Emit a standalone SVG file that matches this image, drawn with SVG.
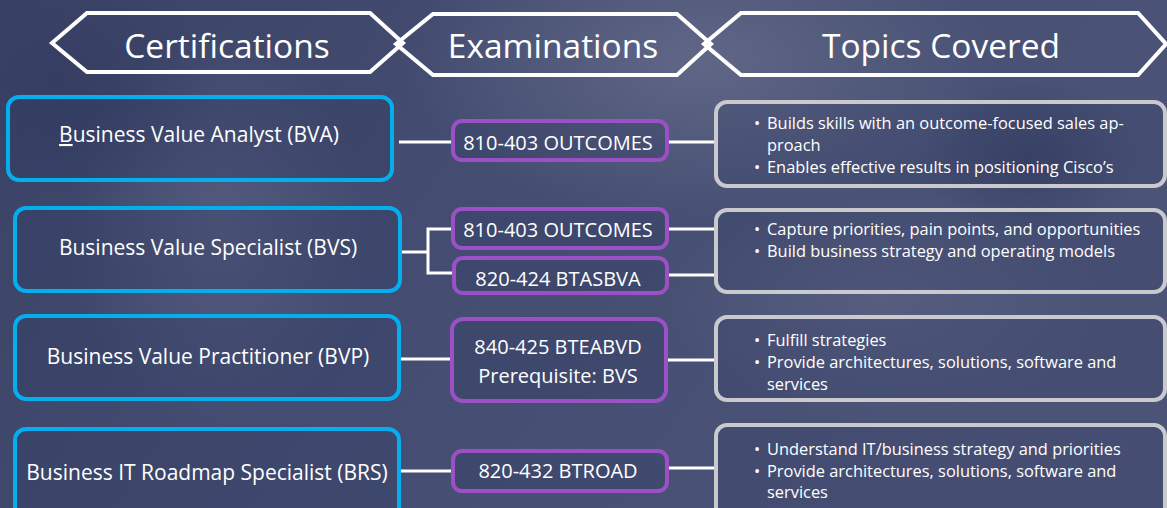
<svg xmlns="http://www.w3.org/2000/svg" width="1167" height="508" viewBox="0 0 1167 508">
<defs>
<linearGradient id="bg" x1="0" y1="0" x2="1" y2="0.3">
<stop offset="0" stop-color="#3a4366"/>
<stop offset="0.45" stop-color="#444d71"/>
<stop offset="1" stop-color="#4b5477"/>
</linearGradient>
<radialGradient id="glow1" cx="0.5" cy="0.5" r="0.5">
<stop offset="0" stop-color="#666c8b" stop-opacity="0.8"/>
<stop offset="1" stop-color="#666c8b" stop-opacity="0"/>
</radialGradient>
<radialGradient id="glow2" cx="0.5" cy="0.5" r="0.5">
<stop offset="0" stop-color="#5a6183" stop-opacity="0.75"/>
<stop offset="1" stop-color="#5a6183" stop-opacity="0"/>
</radialGradient>
<radialGradient id="dark1" cx="0.5" cy="0.5" r="0.5">
<stop offset="0" stop-color="#333c60" stop-opacity="0.7"/>
<stop offset="1" stop-color="#333c60" stop-opacity="0"/>
</radialGradient>
</defs>
<style>
.hdr{fill:none;stroke:#ffffff;stroke-width:4;stroke-linejoin:miter}
.hdrt{font-family:"Open Sans","Noto Sans",sans-serif;font-size:33.5px;fill:#ffffff;text-anchor:middle}
.cert{fill:#2f3860;fill-opacity:0.3;stroke:#05aeee;stroke-width:4}
.exam{fill:#2f3860;fill-opacity:0.3;stroke:#9c50c6;stroke-width:4}
.topic{fill:#2f3860;fill-opacity:0.2;stroke:#c9c9ce;stroke-width:4}
.ct{font-family:"Open Sans","Noto Sans",sans-serif;font-size:21px;fill:#ffffff;text-anchor:middle}
.et{font-family:"Open Sans","Noto Sans",sans-serif;font-size:20px;fill:#ffffff;text-anchor:middle}
.tt{font-family:"Open Sans","Noto Sans",sans-serif;font-size:16.4px;fill:#ffffff}
.conn{fill:none;stroke:#ffffff;stroke-width:3}
</style>
<rect x="0" y="0" width="1167" height="508" fill="url(#bg)"/>
<ellipse cx="700" cy="60" rx="300" ry="160" fill="url(#glow1)"/>
<ellipse cx="220" cy="230" rx="150" ry="200" fill="url(#glow2)"/>
<ellipse cx="880" cy="300" rx="220" ry="120" fill="url(#glow2)"/>
<ellipse cx="1030" cy="160" rx="110" ry="80" fill="url(#dark1)"/>
<ellipse cx="60" cy="80" rx="160" ry="120" fill="url(#dark1)"/>

<g id="header-certifications">
<polygon class="hdr" points="52,43 87,13 370,13 403,43 370,72 87,72"/>
<text class="hdrt" x="227" y="58">Certifications</text>
</g>
<g id="header-examinations">
<polygon class="hdr" points="396,44 433,14 677,14 711,44 677,75 433,75"/>
<text class="hdrt" x="553" y="58">Examinations</text>
</g>
<g id="header-topics">
<polygon class="hdr" points="704,44 741,13 1138,13 1166,44 1138,75 741,75"/>
<text class="hdrt" x="941" y="58">Topics Covered</text>
</g>

<g id="connectors">
<line class="conn" x1="399" y1="142" x2="452" y2="142"/>
<line class="conn" x1="668" y1="142" x2="715" y2="142"/>
<polyline class="conn" points="401,252 428,252"/>
<polyline class="conn" points="452,229 428,229 428,273 452,273"/>
<line class="conn" x1="668" y1="229" x2="715" y2="229"/>
<line class="conn" x1="668" y1="275" x2="715" y2="275"/>
<line class="conn" x1="400" y1="359" x2="452" y2="359"/>
<line class="conn" x1="667" y1="360" x2="715" y2="360"/>
<line class="conn" x1="400" y1="471" x2="452" y2="471"/>
<line class="conn" x1="668" y1="468" x2="715" y2="468"/>
</g>

<g id="cert-bva">
<rect class="cert" x="8" y="97" width="384" height="83" rx="11"/>
<text class="ct" x="199" y="142"><tspan text-decoration="underline">B</tspan>usiness Value Analyst (BVA)</text>
</g>
<g id="cert-bvs">
<rect class="cert" x="15" y="208" width="385" height="83" rx="11"/>
<text class="ct" x="208" y="255">Business Value Specialist (BVS)</text>
</g>
<g id="cert-bvp">
<rect class="cert" x="15" y="316" width="384" height="83" rx="11"/>
<text class="ct" x="208" y="364">Business Value Practitioner (BVP)</text>
</g>
<g id="cert-brs">
<rect class="cert" x="15" y="429" width="384" height="90" rx="11"/>
<text class="ct" x="207" y="480">Business IT Roadmap Specialist (BRS)</text>
</g>

<g id="exam-bva">
<rect class="exam" x="453" y="121" width="214" height="39" rx="9"/>
<text class="et" x="558" y="150">810-403 OUTCOMES</text>
</g>
<g id="exam-bvs-1">
<rect class="exam" x="453" y="209" width="214" height="39" rx="9"/>
<text class="et" x="558" y="237">810-403 OUTCOMES</text>
</g>
<g id="exam-bvs-2">
<rect class="exam" x="454" y="258" width="213" height="35" rx="9"/>
<text class="et" x="558" y="286">820-424 BTASBVA</text>
</g>
<g id="exam-bvp">
<rect class="exam" x="452" y="319" width="214" height="82" rx="11"/>
<text class="et" x="558" y="354">840-425 BTEABVD</text>
<text class="et" x="558" y="383">Prerequisite: BVS</text>
</g>
<g id="exam-brs">
<rect class="exam" x="453" y="451" width="214" height="40" rx="9"/>
<text class="et" x="558" y="478">820-432 BTROAD</text>
</g>

<g id="topic-bva">
<rect class="topic" x="716" y="102" width="449" height="84" rx="11"/>
<text class="tt" x="754" y="129">•</text>
<text class="tt" x="767" y="129">Builds skills with an outcome-focused sales ap-</text>
<text class="tt" x="767" y="151">proach</text>
<text class="tt" x="754" y="173">•</text>
<text class="tt" x="767" y="173">Enables effective results in positioning Cisco’s</text>
</g>
<g id="topic-bvs">
<rect class="topic" x="716" y="210" width="449" height="82" rx="11"/>
<text class="tt" x="754" y="235">•</text>
<text class="tt" x="767" y="235">Capture priorities, pain points, and opportunities</text>
<text class="tt" x="754" y="257">•</text>
<text class="tt" x="767" y="257">Build business strategy and operating models</text>
</g>
<g id="topic-bvp">
<rect class="topic" x="716" y="317" width="449" height="83" rx="11"/>
<text class="tt" x="754" y="346">•</text>
<text class="tt" x="767" y="346">Fulfill strategies</text>
<text class="tt" x="754" y="368">•</text>
<text class="tt" x="767" y="368">Provide architectures, solutions, software and</text>
<text class="tt" x="767" y="390">services</text>
</g>
<g id="topic-brs">
<rect class="topic" x="716" y="425" width="449" height="95" rx="11"/>
<text class="tt" x="754" y="455">•</text>
<text class="tt" x="767" y="455">Understand IT/business strategy and priorities</text>
<text class="tt" x="754" y="477">•</text>
<text class="tt" x="767" y="477">Provide architectures, solutions, software and</text>
<text class="tt" x="767" y="498">services</text>
</g>
</svg>
